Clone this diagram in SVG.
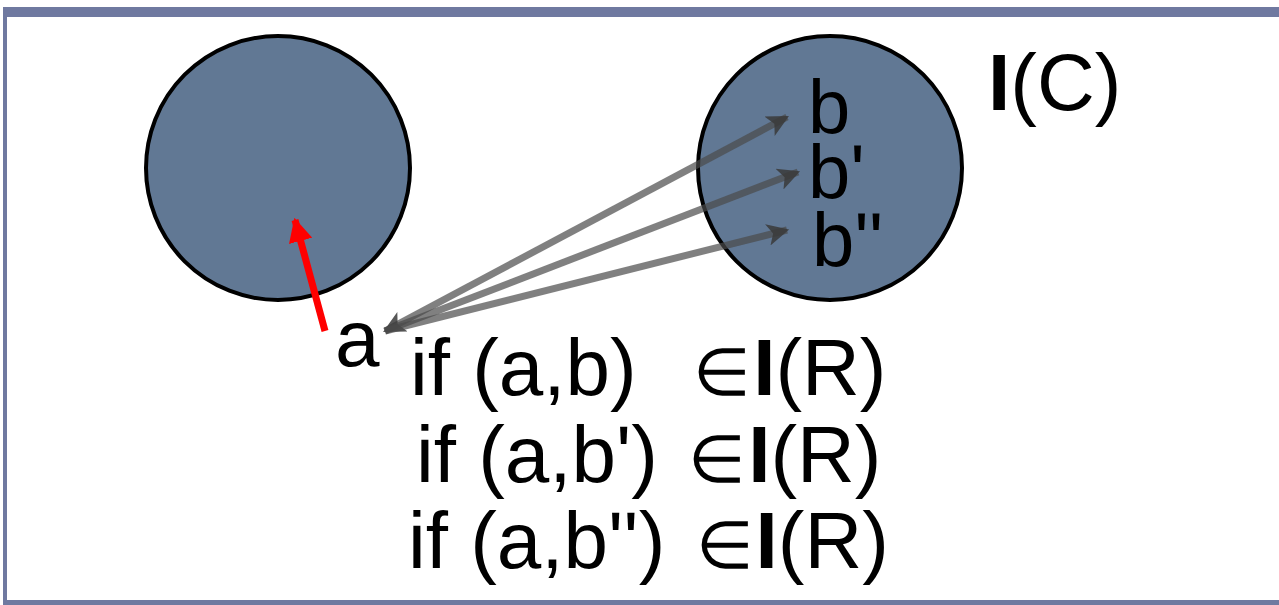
<svg xmlns="http://www.w3.org/2000/svg" width="1279" height="605" viewBox="0 0 1279 605">
<style>
.t{font-family:"Liberation Sans",Arial,sans-serif;font-size:80px;fill:#000}
.s{font-size:76px}
.b{font-weight:bold}
.e{font-size:66px}
.set{fill:#617894;stroke:#000;stroke-width:4}
.rel{stroke:#4a4a4a;stroke-opacity:0.7;stroke-width:7;fill:none}
</style>
<defs>
<marker id="ah" viewBox="0 0 10 10" refX="9" refY="5" markerWidth="26" markerHeight="22" markerUnits="userSpaceOnUse" orient="auto-start-reverse">
<path d="M0,0 L10,5 L0,10 L2.5,5 z" fill="#3a3a3a" fill-opacity="0.85"/>
</marker>
<marker id="rh" viewBox="0 0 10 10" refX="9" refY="5" markerWidth="24" markerHeight="24" markerUnits="userSpaceOnUse" orient="auto">
<path d="M0,0 L10,5 L0,10 z" fill="#ff0000"/>
</marker>
</defs>
<rect x="0" y="0" width="1279" height="605" fill="#fff"/>
<g id="frame" fill="#6f79a0">
<rect x="3" y="7" width="1276" height="10"/>
<rect x="3" y="7" width="4" height="598"/>
<rect x="3" y="600" width="1276" height="5"/>
</g>
<g id="set-left"><circle class="set" cx="278" cy="168" r="132"/></g>
<g id="set-right"><circle class="set" cx="830" cy="168" r="132"/></g>
<g id="connectors">
<line x1="325" y1="331" x2="295" y2="220" stroke="#ff0000" stroke-width="7" marker-end="url(#rh)"/>
<line class="rel" x1="385" y1="331" x2="787" y2="117" marker-start="url(#ah)" marker-end="url(#ah)"/>
<line class="rel" x1="385" y1="331" x2="798" y2="172" marker-end="url(#ah)"/>
<line class="rel" x1="385" y1="331" x2="787" y2="230" marker-end="url(#ah)"/>
</g>
<g id="labels">
<text class="t" x="335" y="366">a</text>
<text class="t s" x="808" y="133">b</text>
<text class="t s" x="808" y="198">b'</text>
<text class="t s" x="812" y="266">b''</text>
<text class="t" x="988" y="110"><tspan class="b">I</tspan>(C)</text>
<text class="t" x="410" y="395">if (a,b)&#160; <tspan class="e" dx="12">∈</tspan><tspan class="b" dx="2">I</tspan>(R)</text>
<text class="t" x="416" y="482">if (a,b') <tspan class="e" dx="8">∈</tspan><tspan class="b" dx="2">I</tspan>(R)</text>
<text class="t" x="408" y="568">if (a,b'') <tspan class="e" dx="8">∈</tspan><tspan class="b" dx="2">I</tspan>(R)</text>
</g>
</svg>
